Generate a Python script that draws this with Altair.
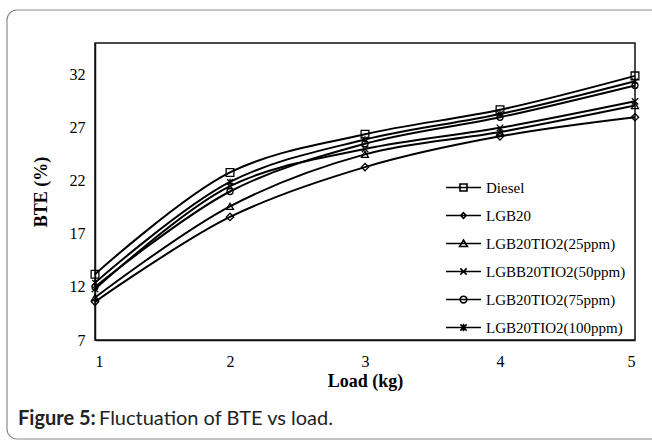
import altair as alt
import pandas as pd

loads = [1, 2, 3, 4, 5]
series_names = ["Diesel", "LGB20", "LGB20TIO2(25ppm)", "LGBB20TIO2(50ppm)",
                "LGB20TIO2(75ppm)", "LGB20TIO2(100ppm)"]
diesel = [13.2, 22.8, 26.4, 28.7, 31.9]
lgb20 = [10.6, 18.6, 23.3, 26.2, 28.0]
tio2_25 = [11.0, 19.6, 24.5, 26.6, 29.1]
tio2_50 = [11.8, 21.5, 25.0, 27.0, 29.5]
tio2_75 = [12.0, 21.0, 25.5, 28.0, 31.0]
tio2_100 = [12.4, 21.9, 25.9, 28.3, 31.4]
y_ticks = [7, 12, 17, 22, 27, 32]

values = [diesel, lgb20, tio2_25, tio2_50, tio2_75, tio2_100]
rows = []
for name, vals in zip(series_names, values):
    for l, v in zip(loads, vals):
        rows.append({"load": l, "bte": v, "series": name, "series_l": name})
df = pd.DataFrame(rows)

plot_shapes = [
    "square",
    "diamond",
    "triangle-up",
    "M-1,-1L1,1M-1,1L1,-1",
    "circle",
    "M-1,-1L1,1M-1,1L1,-1M0,-1.2L0,1.2",
]
legend_shapes = [
    "M-1,0L1,0M-0.2,-0.2L0.2,-0.2L0.2,0.2L-0.2,0.2Z",
    "M-1,0L1,0M0,-0.16L0.16,0L0,0.16L-0.16,0Z",
    "M-1,0L1,0M0,-0.2L0.22,0.17L-0.22,0.17Z",
    "M-1,0L1,0M-0.18,-0.18L0.18,0.18M-0.18,0.18L0.18,-0.18",
    "M-1,0L1,0M0.19,0A0.19,0.19,0,1,1,-0.19,0A0.19,0.19,0,1,1,0.19,0Z",
    "M-1,0L1,0M-0.18,-0.18L0.18,0.18M-0.18,0.18L0.18,-0.18M0,-0.22L0,0.22",
]
plot_sizes = [60, 30, 55, 45, 55, 55]

serif = "Liberation Serif"

x_enc = alt.X("load:Q", scale=alt.Scale(domain=[1, 5], nice=False),
              axis=alt.Axis(values=loads, title="Load (kg)", format="d",
                            ticks=False, grid=False, labelPadding=13,
                            titlePadding=3, domainColor="#111",
                            domainWidth=1.5))
y_enc = alt.Y("bte:Q", scale=alt.Scale(domain=[7, 35], nice=False, zero=False),
              axis=alt.Axis(values=y_ticks, title="BTE (%)", ticks=False,
                            grid=False, labelPadding=10, titlePadding=19,
                            domainColor="#111", domainWidth=1.5))

lines = alt.Chart(df).mark_line(
    interpolate="catmull-rom", color="black", strokeWidth=2
).encode(x=x_enc, y=y_enc, detail="series:N")

points = alt.Chart(df).mark_point(
    filled=False, color="black", strokeWidth=1.3, opacity=1
).encode(
    x="load:Q", y="bte:Q",
    shape=alt.Shape("series:N", scale=alt.Scale(domain=series_names, range=plot_shapes), legend=None),
    size=alt.Size("series:N", scale=alt.Scale(domain=series_names, range=plot_sizes), legend=None),
)

legend_layer = alt.Chart(df).mark_point(
    filled=False, color="black", opacity=0
).encode(
    x="load:Q", y="bte:Q",
    shape=alt.Shape(
        "series_l:N",
        scale=alt.Scale(domain=series_names, range=legend_shapes),
        legend=alt.Legend(
            title=None, orient="none", legendX=350, legendY=126,
            symbolSize=1225, symbolOpacity=1, symbolStrokeColor="black",
            symbolStrokeWidth=1.6, symbolFillColor="transparent",
            labelFont=serif, labelFontSize=15, labelColor="black",
            labelOffset=4, rowPadding=1, labelLimit=300,
        ),
    ),
)

frame_df = pd.DataFrame({"k": [0]})
frame = alt.Chart(frame_df).mark_rect(
    fill=None, fillOpacity=0, stroke="#8a8a8a", strokeWidth=1.2, cornerRadius=10
).encode(
    x=alt.value(-88), x2=alt.value(572), y=alt.value(-33), y2=alt.value(396)
)

cap_bold = alt.Chart(frame_df).mark_text(
    text="Figure 5:", font="Lato", fontWeight="bold", fontSize=20,
    align="left", baseline="middle", color="#222"
).encode(x=alt.value(-77), y=alt.value(376))

cap_reg = alt.Chart(frame_df).mark_text(
    text="Fluctuation of BTE vs load.", font="Lato", fontSize=20,
    align="left", baseline="middle", color="#222"
).encode(x=alt.value(4), y=alt.value(376))

chart = alt.layer(frame, lines, points, legend_layer, cap_bold, cap_reg).resolve_scale(
    shape="independent", size="independent"
).properties(
    width=540, height=297,
    autosize=alt.AutoSizeParams(type="none"),
    padding={"left": 95, "top": 43, "right": 17, "bottom": 104},
).configure_view(
    stroke="#111", strokeWidth=1.5
).configure_axis(
    labelFont=serif, labelFontSize=16, labelColor="black",
    titleFont=serif, titleFontSize=18, titleFontWeight="bold", titleColor="black",
)

chart.save("out.html", embed_options={"renderer": "svg", "actions": False})
